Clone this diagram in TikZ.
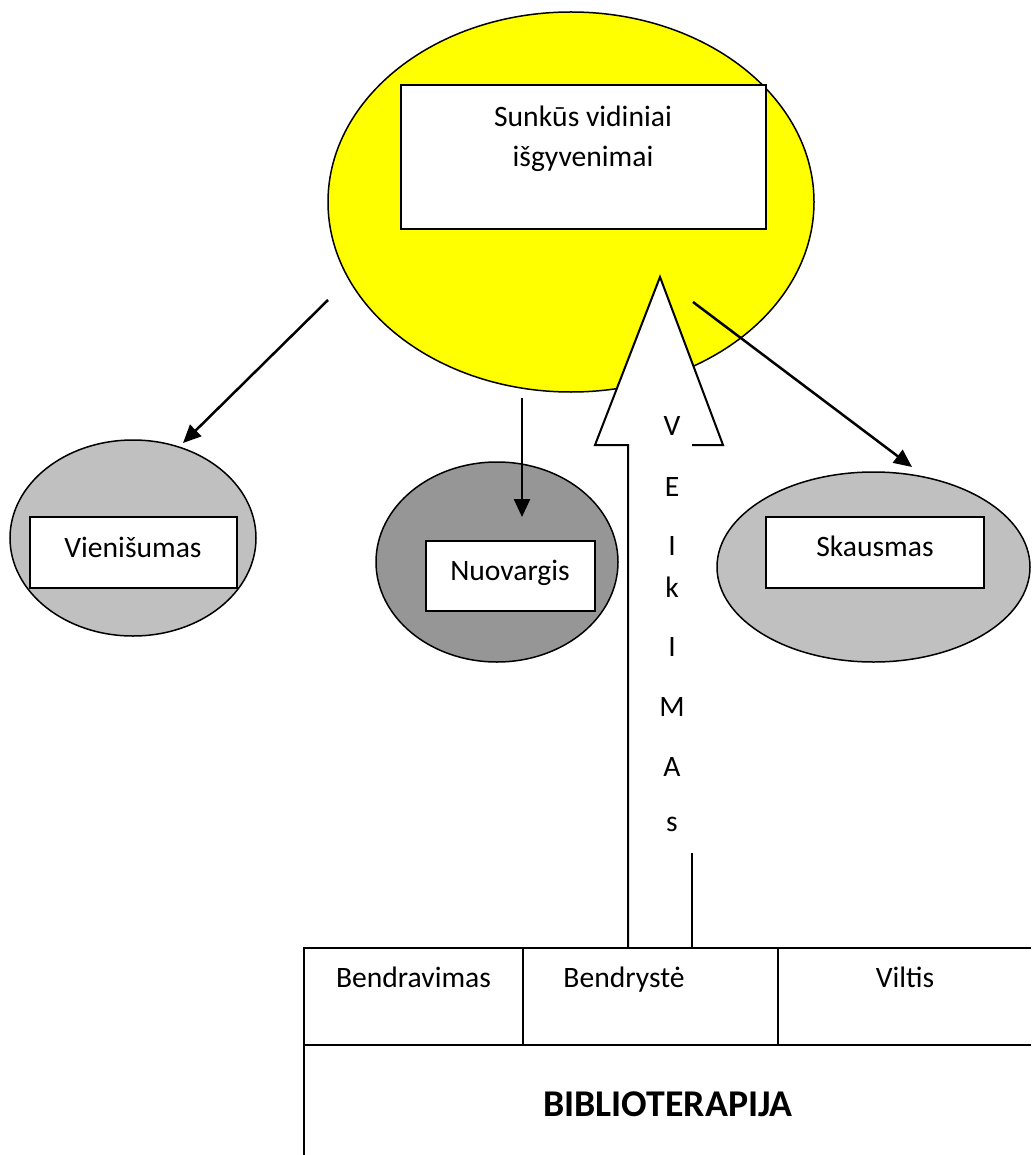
\documentclass[tikz,border=0pt]{standalone}
\usepackage{fontspec}
\setmainfont{Carlito}
\usetikzlibrary{shapes.geometric,arrows.meta}
\definecolor{lightgrey}{HTML}{C0C0C0}
\definecolor{darkgrey}{HTML}{969696}
\definecolor{sun}{HTML}{FFFF00}
\begin{document}
\begin{tikzpicture}[x=1pt,y=-1pt,
  oval/.style={ellipse,draw=black,line width=1.5pt,inner sep=0pt},
  box/.style={rectangle,draw=black,fill=white,line width=2pt,inner sep=0pt},
  lbl/.style={font=\fontsize{29.6}{40}\selectfont,inner sep=0pt,align=center},
  biglbl/.style={font=\fontsize{37.8}{44}\selectfont\bfseries,inner sep=0pt},
  rule/.style={line width=2pt},
  link/.style={line width=2.5pt,-{Triangle[length=18pt,width=16pt]}}]
\useasboundingbox (0,0) rectangle (1032,1155);

% central yellow oval with its label box
\node[oval,fill=sun,minimum width=486pt,minimum height=380pt] (core) at (571,202) {};
\node[box,minimum width=365pt,minimum height=144pt] (corebox) at (583.5,157) {};
\node[lbl,anchor=north] (coretext) at (583,106) {Sunkūs vidiniai\\išgyvenimai};

% three outcome ovals
\node[oval,fill=lightgrey,minimum width=246pt,minimum height=196pt] (lonely) at (133,538) {};
\node[box,minimum width=207pt,minimum height=71pt] (lonelybox) at (133.5,552.5) {};
\node[lbl,anchor=base] (lonelytext) at (133,557) {Vienišumas};

\node[oval,fill=darkgrey,minimum width=242pt,minimum height=200pt] (tired) at (497,562) {};
\node[box,minimum width=169pt,minimum height=70pt] (tiredbox) at (510.5,576) {};
\node[lbl,anchor=base] (tiredtext) at (510,580) {Nuovargis};

\node[oval,fill=lightgrey,minimum width=313pt,minimum height=190pt] (pain) at (873.5,567) {};
\node[box,minimum width=218pt,minimum height=71pt] (painbox) at (875,552.5) {};
\node[lbl,anchor=base] (paintext) at (875,556) {Skausmas};

% connectors from the central oval
\coordinate (l0) at (328,300);  \coordinate (l1) at (183,443);
\coordinate (m0) at (522,398);  \coordinate (m1) at (522,517);
\coordinate (r0) at (693,302);  \coordinate (r1) at (912,467);
\draw[link] (l0) -- (l1);
\draw[link] (m0) -- (m1);
\draw[link] (r0) -- (r1);

% large hollow upward arrow
\coordinate (shl) at (628,948);
\coordinate (shr) at (692,948);
\coordinate (nl) at (628,445);
\coordinate (nr) at (692,445);
\coordinate (hl) at (595,445);
\coordinate (hr) at (723,445);
\coordinate (tip) at (660,277);
\coordinate (gap) at (692,853);
\fill[white] (shl) -- (nl) -- (hl) -- (tip) -- (hr) -- (nr) -- (shr) -- cycle;
\draw[rule,line join=miter] (shl) -- (nl) -- (hl) -- (tip) -- (hr) -- (nr);
\draw[rule] (gap) -- (shr);

% vertical word inside the arrow
\foreach \ch/\yy/\nm in {V/435/v1, E/496/v2, I/555/v3, k/597/v4, I/656/v5, M/716/v6, A/776/v7, s/831/v8}
  \node[lbl,anchor=base] (\nm) at (672,\yy) {\ch};

% bottom table
\coordinate (t0) at (304,948);
\coordinate (t1) at (1031,948);
\coordinate (t2) at (304,1045);
\coordinate (t3) at (1031,1045);
\coordinate (t4) at (304,1155);
\coordinate (c1a) at (523,948); \coordinate (c1b) at (523,1045);
\coordinate (c2a) at (778,948); \coordinate (c2b) at (778,1045);
\draw[rule] (t4) -- (t0) -- (t1);
\draw[rule] (t2) -- (t3);
\draw[rule] (c1a) -- (c1b);
\draw[rule] (c2a) -- (c2b);
\node[lbl,anchor=base] (cell1) at (413.5,987) {Bendravimas};
\node[lbl,anchor=base] (cell2) at (624,987) {Bendrystė};
\node[lbl,anchor=base] (cell3) at (905,987) {Viltis};
\node[biglbl,anchor=base] (title) at (668,1116) {BIBLIOTERAPIJA};
\end{tikzpicture}
\end{document}
